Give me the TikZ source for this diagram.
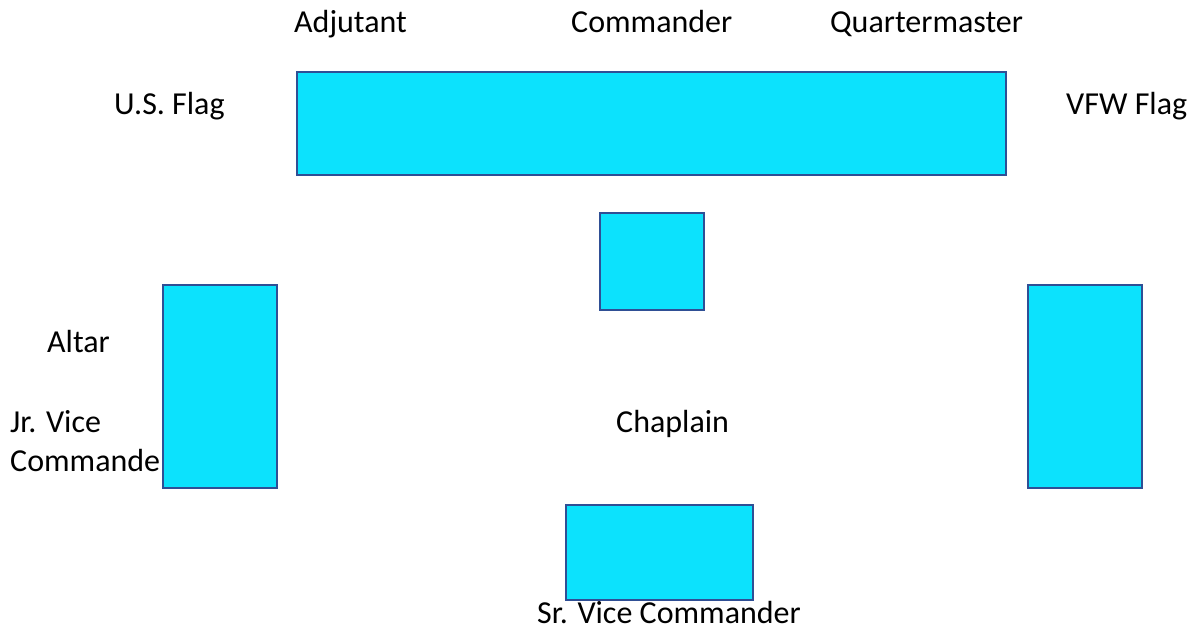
\documentclass[tikz,border=0pt]{standalone}
\usepackage{fontspec}
\setmainfont{Carlito}
\definecolor{tablefill}{HTML}{0CE2FD}
\definecolor{tableedge}{HTML}{2F4F95}
\tikzset{
  table/.style={draw=tableedge, fill=tablefill, line width=2.2pt},
  post/.style={anchor=base west, inner sep=0pt, font=\fontsize{32}{38}\selectfont, text=black}
}
\begin{document}
\begin{tikzpicture}[x=1pt, y=-1pt]
\useasboundingbox (0,0) rectangle (1194,630);
% officer stations (labels)
\node[post] (adj)  at (294,32)  {Adjutant};
\node[post] (cmd)  at (571,32)  {Commander};
\node[post] (qm)   at (830,32)  {Quartermaster};
\node[post] (usf)  at (114,114) {U.S. Flag};
\node[post] (vfwf) at (1066,114) {VFW Flag};
\node[post] (alt)  at (47,352)  {Altar};
\node[post] (jr1)  at (10,432)  {Jr. Vice};
\node[post] (jr2)  at (10,471)  {Commander};
\node[post] (chp)  at (616,432) {Chaplain};
\node[post] (sr)   at (537,623) {Sr. Vice Commander};
% tables
\draw[table] (297,72) rectangle (1006,175);
\draw[table] (600,213) rectangle (704,310);
\draw[table] (163,285) rectangle (277,488);
\draw[table] (1028,285) rectangle (1142,488);
\draw[table] (566,505) rectangle (753,600);
\end{tikzpicture}
\end{document}
